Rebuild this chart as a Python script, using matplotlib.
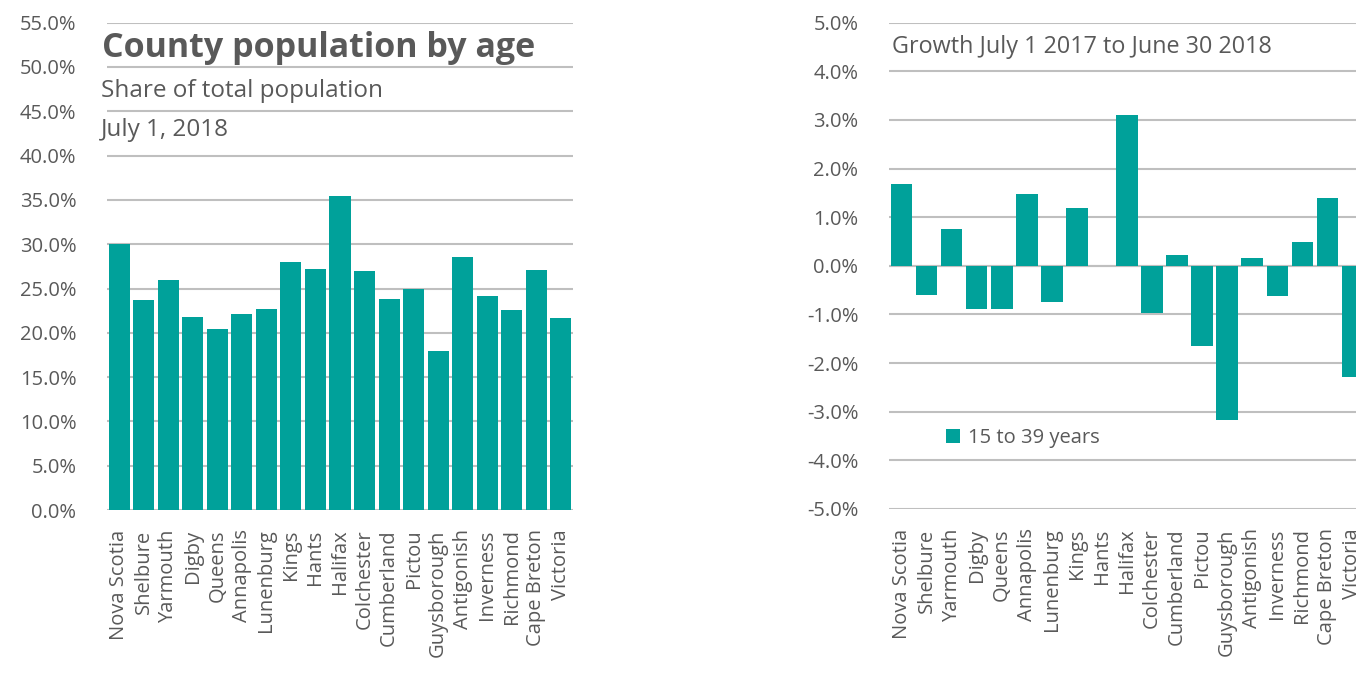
import matplotlib
matplotlib.use("Agg")
import matplotlib.pyplot as plt
from matplotlib.ticker import FuncFormatter

counties = ["Nova Scotia", "Shelbure", "Yarmouth", "Digby", "Queens", "Annapolis",
            "Lunenburg", "Kings", "Hants", "Halifax", "Colchester", "Cumberland",
            "Pictou", "Guysborough", "Antigonish", "Inverness", "Richmond",
            "Cape Breton", "Victoria"]
share_15_39 = [30.0, 23.7, 26.0, 21.8, 20.45, 22.1, 22.7, 28.0, 27.2, 35.4, 27.0,
               23.8, 24.9, 17.9, 28.5, 24.1, 22.6, 27.1, 21.7]
growth_15_39 = [1.69, -0.59, 0.76, -0.89, -0.89, 1.47, -0.74, 1.19, 0.0, 3.1, -0.97,
                0.23, -1.64, -3.17, 0.17, -0.61, 0.50, 1.39, -2.28]
left_ticks = [0, 5, 10, 15, 20, 25, 30, 35, 40, 45, 50, 55]
right_ticks = [-5, -4, -3, -2, -1, 0, 1, 2, 3, 4, 5]
series_name = "15 to 39 years"

TEAL = "#00A19A"
GRAY = "#595959"
GRID = "#BFBFBF"
FONT = ["Open Sans", "DejaVu Sans"]
plt.rcParams["font.family"] = FONT

W, H = 1356, 678
fig = plt.figure(figsize=(W / 100, H / 100), dpi=100)


def rect(x0, x1, y0, y1):
    return [x0 / W, 1 - y1 / H, (x1 - x0) / W, (y1 - y0) / H]


ax1 = fig.add_axes(rect(107, 573, 22.7, 510))
ax2 = fig.add_axes(rect(889, 1365, 22.7, 509))

x = list(range(len(counties)))
fmt = FuncFormatter(lambda v, p: f"{v:.1f}%")

for ax, vals, ticks in [(ax1, share_15_39, left_ticks), (ax2, growth_15_39, right_ticks)]:
    ax.bar(x, vals, width=0.86, color=TEAL, zorder=3, label=series_name)
    ax.set_xlim(-0.5, len(counties) - 0.5)
    ax.set_ylim(ticks[0], ticks[-1])
    ax.set_yticks(ticks)
    ax.yaxis.set_major_formatter(fmt)
    ax.grid(axis="y", color=GRID, linewidth=1.5, zorder=0)
    ax.set_axisbelow(True)
    for s in ax.spines.values():
        s.set_visible(False)
    ax.set_xticks(x)
    ax.set_xticklabels(counties, rotation=90, fontsize=14.5, color=GRAY, va="top")
    ax.tick_params(axis="both", length=0, colors=GRAY)
    ax.tick_params(axis="y", labelsize=14.5, pad=22)
    ax.tick_params(axis="x", pad=14)
    ax.patch.set_alpha(0)

# the 0% line on the right chart
ax2.axhline(0, color=GRID, linewidth=1.5, zorder=1)

fig.text(102 / W, 1 - 48 / H, "County population by age", fontsize=24.5,
         fontweight="bold", color=GRAY, va="center", ha="left")
fig.text(101 / W, 1 - 91 / H, "Share of total population", fontsize=17.5,
         color=GRAY, va="center", ha="left")
fig.text(101 / W, 1 - 130 / H, "July 1, 2018", fontsize=17.5,
         color=GRAY, va="center", ha="left")
fig.text(892 / W, 1 - 47 / H, "Growth July 1 2017 to June 30 2018", fontsize=16.8,
         color=GRAY, va="center", ha="left")

leg = ax2.legend(loc="center left", bbox_to_anchor=((946 - 889) / 476, (509 - 438) / 486.3),
                 frameon=False, fontsize=14.5, handlelength=0.7, handleheight=0.7,
                 handletextpad=0.4, borderaxespad=0, borderpad=0)
for t in leg.get_texts():
    t.set_color(GRAY)

fig.savefig("out.png", dpi=100, facecolor="white")
